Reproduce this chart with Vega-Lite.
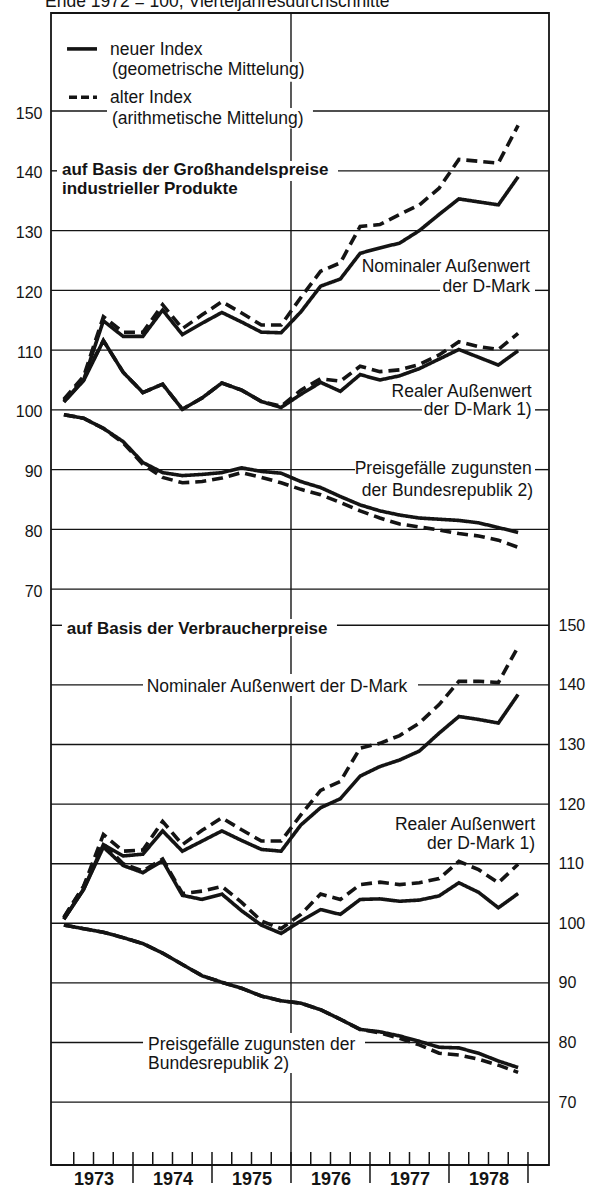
{
  "$schema": "https://vega.github.io/schema/vega-lite/v6.json",
  "width": 498,
  "height": 1152,
  "autosize": {"type": "none"},
  "padding": {"left": 51, "top": 13, "right": 40, "bottom": 22},
  "background": "white",
  "config": {
    "view": {"stroke": "#141414", "strokeWidth": 1.8},
    "font": "Liberation Sans",
    "axis": {"labelFont": "Liberation Sans", "labelColor": "#141414", "grid": false, "ticks": false, "domain": false},
    "text": {"font": "Liberation Sans", "color": "#141414"}
  },
  "datasets": {
    "top": [
      {"t": 1973.125, "nom_neu": 101.4, "nom_alt": 101.8, "real_neu": 101.3, "real_alt": 101.6, "gap_neu": 99.2, "gap_alt": 99.2},
      {"t": 1973.375, "nom_neu": 105.0, "nom_alt": 105.6, "real_neu": 104.9, "real_alt": 105.2, "gap_neu": 98.6, "gap_alt": 98.6},
      {"t": 1973.625, "nom_neu": 114.9, "nom_alt": 115.6, "real_neu": 111.6, "real_alt": 111.6, "gap_neu": 96.9, "gap_alt": 96.9},
      {"t": 1973.875, "nom_neu": 112.3, "nom_alt": 113.0, "real_neu": 106.3, "real_alt": 106.3, "gap_neu": 94.7, "gap_alt": 94.5},
      {"t": 1974.125, "nom_neu": 112.3, "nom_alt": 113.0, "real_neu": 102.9, "real_alt": 102.9, "gap_neu": 91.2, "gap_alt": 90.9},
      {"t": 1974.375, "nom_neu": 116.7, "nom_alt": 117.6, "real_neu": 104.3, "real_alt": 104.3, "gap_neu": 89.5, "gap_alt": 88.7},
      {"t": 1974.625, "nom_neu": 112.6, "nom_alt": 113.6, "real_neu": 100.1, "real_alt": 100.1, "gap_neu": 89.0, "gap_alt": 87.8},
      {"t": 1974.875, "nom_neu": 114.5, "nom_alt": 115.9, "real_neu": 102.0, "real_alt": 102.0, "gap_neu": 89.2, "gap_alt": 88.0},
      {"t": 1975.125, "nom_neu": 116.3, "nom_alt": 118.1, "real_neu": 104.5, "real_alt": 104.5, "gap_neu": 89.5, "gap_alt": 88.6},
      {"t": 1975.375, "nom_neu": 114.7, "nom_alt": 116.2, "real_neu": 103.3, "real_alt": 103.3, "gap_neu": 90.3, "gap_alt": 89.5},
      {"t": 1975.625, "nom_neu": 113.0, "nom_alt": 114.2, "real_neu": 101.4, "real_alt": 101.4, "gap_neu": 89.7, "gap_alt": 88.7},
      {"t": 1975.875, "nom_neu": 112.9, "nom_alt": 114.2, "real_neu": 100.4, "real_alt": 100.6, "gap_neu": 89.4, "gap_alt": 87.8},
      {"t": 1976.125, "nom_neu": 116.4, "nom_alt": 118.8, "real_neu": 102.6, "real_alt": 103.3, "gap_neu": 88.0, "gap_alt": 86.7},
      {"t": 1976.375, "nom_neu": 120.7, "nom_alt": 123.2, "real_neu": 104.6, "real_alt": 105.2, "gap_neu": 87.0, "gap_alt": 85.8},
      {"t": 1976.625, "nom_neu": 121.9, "nom_alt": 124.6, "real_neu": 103.1, "real_alt": 104.8, "gap_neu": 85.5, "gap_alt": 84.5},
      {"t": 1976.875, "nom_neu": 126.2, "nom_alt": 130.7, "real_neu": 105.9, "real_alt": 107.3, "gap_neu": 84.1, "gap_alt": 83.1},
      {"t": 1977.125, "nom_neu": 127.1, "nom_alt": 131.0, "real_neu": 105.0, "real_alt": 106.4, "gap_neu": 83.1, "gap_alt": 81.9},
      {"t": 1977.375, "nom_neu": 127.9, "nom_alt": 132.7, "real_neu": 105.7, "real_alt": 106.7, "gap_neu": 82.4, "gap_alt": 80.9},
      {"t": 1977.625, "nom_neu": 130.0, "nom_alt": 134.3, "real_neu": 106.9, "real_alt": 107.6, "gap_neu": 81.9, "gap_alt": 80.4},
      {"t": 1977.875, "nom_neu": 132.7, "nom_alt": 137.1, "real_neu": 108.5, "real_alt": 109.2, "gap_neu": 81.7, "gap_alt": 79.9},
      {"t": 1978.125, "nom_neu": 135.3, "nom_alt": 141.9, "real_neu": 110.1, "real_alt": 111.4, "gap_neu": 81.5, "gap_alt": 79.3},
      {"t": 1978.375, "nom_neu": 134.8, "nom_alt": 141.6, "real_neu": 108.8, "real_alt": 110.6, "gap_neu": 81.1, "gap_alt": 78.9},
      {"t": 1978.625, "nom_neu": 134.3, "nom_alt": 141.3, "real_neu": 107.5, "real_alt": 110.1, "gap_neu": 80.3, "gap_alt": 78.2},
      {"t": 1978.875, "nom_neu": 139.0, "nom_alt": 147.6, "real_neu": 109.9, "real_alt": 112.8, "gap_neu": 79.5, "gap_alt": 77.0}
    ],
    "bottom": [
      {"t": 1973.125, "nom_neu": 100.7, "nom_alt": 101.0, "real_neu": 100.7, "real_alt": 101.0, "gap_neu": 99.7, "gap_alt": 99.7},
      {"t": 1973.375, "nom_neu": 105.7, "nom_alt": 106.2, "real_neu": 105.7, "real_alt": 106.2, "gap_neu": 99.1, "gap_alt": 99.1},
      {"t": 1973.625, "nom_neu": 113.2, "nom_alt": 114.9, "real_neu": 112.8, "real_alt": 113.3, "gap_neu": 98.5, "gap_alt": 98.5},
      {"t": 1973.875, "nom_neu": 111.3, "nom_alt": 112.1, "real_neu": 109.7, "real_alt": 110.0, "gap_neu": 97.6, "gap_alt": 97.6},
      {"t": 1974.125, "nom_neu": 111.6, "nom_alt": 112.3, "real_neu": 108.5, "real_alt": 108.8, "gap_neu": 96.6, "gap_alt": 96.6},
      {"t": 1974.375, "nom_neu": 115.5, "nom_alt": 117.1, "real_neu": 110.5, "real_alt": 110.8, "gap_neu": 95.0, "gap_alt": 95.0},
      {"t": 1974.625, "nom_neu": 112.1, "nom_alt": 113.2, "real_neu": 104.7, "real_alt": 105.0, "gap_neu": 93.1, "gap_alt": 93.1},
      {"t": 1974.875, "nom_neu": 113.8, "nom_alt": 115.6, "real_neu": 104.0, "real_alt": 105.4, "gap_neu": 91.2, "gap_alt": 91.2},
      {"t": 1975.125, "nom_neu": 115.5, "nom_alt": 117.7, "real_neu": 104.9, "real_alt": 106.2, "gap_neu": 90.1, "gap_alt": 90.1},
      {"t": 1975.375, "nom_neu": 113.9, "nom_alt": 115.7, "real_neu": 102.1, "real_alt": 103.5, "gap_neu": 89.1, "gap_alt": 89.1},
      {"t": 1975.625, "nom_neu": 112.4, "nom_alt": 113.8, "real_neu": 99.7, "real_alt": 100.4, "gap_neu": 87.8, "gap_alt": 87.8},
      {"t": 1975.875, "nom_neu": 112.1, "nom_alt": 113.8, "real_neu": 98.3, "real_alt": 99.1, "gap_neu": 87.0, "gap_alt": 87.0},
      {"t": 1976.125, "nom_neu": 116.5, "nom_alt": 118.2, "real_neu": 100.4, "real_alt": 101.5, "gap_neu": 86.6, "gap_alt": 86.6},
      {"t": 1976.375, "nom_neu": 119.4, "nom_alt": 122.3, "real_neu": 102.3, "real_alt": 104.9, "gap_neu": 85.5, "gap_alt": 85.5},
      {"t": 1976.625, "nom_neu": 120.9, "nom_alt": 123.8, "real_neu": 101.5, "real_alt": 104.0, "gap_neu": 83.9, "gap_alt": 83.9},
      {"t": 1976.875, "nom_neu": 124.7, "nom_alt": 129.4, "real_neu": 104.0, "real_alt": 106.5, "gap_neu": 82.2, "gap_alt": 82.2},
      {"t": 1977.125, "nom_neu": 126.3, "nom_alt": 130.2, "real_neu": 104.1, "real_alt": 106.9, "gap_neu": 81.8, "gap_alt": 81.6},
      {"t": 1977.375, "nom_neu": 127.4, "nom_alt": 131.5, "real_neu": 103.7, "real_alt": 106.5, "gap_neu": 81.1, "gap_alt": 80.7},
      {"t": 1977.625, "nom_neu": 128.9, "nom_alt": 133.6, "real_neu": 103.9, "real_alt": 106.8, "gap_neu": 80.2, "gap_alt": 79.6},
      {"t": 1977.875, "nom_neu": 131.9, "nom_alt": 136.7, "real_neu": 104.6, "real_alt": 107.5, "gap_neu": 79.2, "gap_alt": 78.2},
      {"t": 1978.125, "nom_neu": 134.7, "nom_alt": 140.6, "real_neu": 106.8, "real_alt": 110.4, "gap_neu": 79.1, "gap_alt": 77.9},
      {"t": 1978.375, "nom_neu": 134.2, "nom_alt": 140.6, "real_neu": 105.2, "real_alt": 109.0, "gap_neu": 78.2, "gap_alt": 77.2},
      {"t": 1978.625, "nom_neu": 133.6, "nom_alt": 140.4, "real_neu": 102.6, "real_alt": 106.8, "gap_neu": 76.9, "gap_alt": 76.2},
      {"t": 1978.875, "nom_neu": 138.4, "nom_alt": 146.4, "real_neu": 105.0, "real_alt": 109.9, "gap_neu": 75.8, "gap_alt": 75.0}
    ],
    "gridTop": [
      {"t": 1972.962, "t2": 1973.671, "v": 150}, {"t": 1976.278, "t2": 1979.266, "v": 150},
      {"t": 1972.962, "t2": 1973.038, "v": 140}, {"t": 1976.595, "t2": 1979.266, "v": 140},
      {"t": 1972.962, "t2": 1979.266, "v": 130},
      {"t": 1972.962, "t2": 1977.886, "v": 120}, {"t": 1979.089, "t2": 1979.266, "v": 120},
      {"t": 1972.962, "t2": 1979.266, "v": 110},
      {"t": 1972.962, "t2": 1977.658, "v": 100}, {"t": 1979.089, "t2": 1979.266, "v": 100},
      {"t": 1972.962, "t2": 1976.81, "v": 90}, {"t": 1979.089, "t2": 1979.266, "v": 90},
      {"t": 1972.962, "t2": 1979.266, "v": 80},
      {"t": 1972.962, "t2": 1979.266, "v": 70}
    ],
    "gridBottom": [
      {"t": 1972.962, "t2": 1973.101, "v": 150}, {"t": 1976.582, "t2": 1979.266, "v": 150},
      {"t": 1972.962, "t2": 1974.127, "v": 140}, {"t": 1977.608, "t2": 1979.266, "v": 140},
      {"t": 1972.962, "t2": 1979.266, "v": 130},
      {"t": 1972.962, "t2": 1979.266, "v": 120},
      {"t": 1972.962, "t2": 1979.266, "v": 110},
      {"t": 1972.962, "t2": 1979.266, "v": 100},
      {"t": 1972.962, "t2": 1979.266, "v": 90},
      {"t": 1972.962, "t2": 1974.127, "v": 80}, {"t": 1976.937, "t2": 1979.266, "v": 80},
      {"t": 1972.962, "t2": 1979.266, "v": 70}
    ],
    "vline": [
      {"t": 1976, "v": 166.41, "v2": 158.2},
      {"t": 1976, "v": 154.9, "v2": 150.52},
      {"t": 1976, "v": 147.1, "v2": 141.65},
      {"t": 1976, "v": 138.3, "v2": 65.01},
      {"t": 1976, "v": 62.16, "v2": 55.8},
      {"t": 1976, "v": 52.12, "v2": -4.27},
      {"t": 1976, "v": -10.96, "v2": -26.36}
    ],
    "legendSolid": [{"t": 1973.165, "t2": 1973.544, "v": 160.4}],
    "legendDashed": [{"t": 1973.19, "t2": 1973.544, "v": 152.3}],
    "topBold": [
      {"t": 1973.101, "v": 139.3, "label": "auf Basis der Großhandelspreise"},
      {"t": 1973.101, "v": 136.12, "label": "industrieller Produkte"}
    ],
    "topLeft": [
      {"t": 1973.709, "v": 159.4, "label": "neuer Index"},
      {"t": 1973.734, "v": 156.0, "label": "(geometrische Mittelung)"},
      {"t": 1973.709, "v": 151.3, "label": "alter Index"},
      {"t": 1973.734, "v": 147.8, "label": "(arithmetische Mittelung)"},
      {"t": 1972.886, "v": 167.42, "label": "Ende 1972 = 100, Vierteljahresdurchschnitte"}
    ],
    "topRight": [
      {"t": 1979.025, "v": 123.07, "label": "Nominaler Außenwert"},
      {"t": 1979.025, "v": 119.78, "label": "der D-Mark"},
      {"t": 1979.047, "v": 102.16, "label": "Realer Außenwert"},
      {"t": 1979.047, "v": 99.14, "label": "der D-Mark 1)"},
      {"t": 1979.047, "v": 89.27, "label": "Preisgefälle zugunsten"},
      {"t": 1979.063, "v": 85.53, "label": "der Bundesrepublik 2)"}
    ],
    "bottomBold": [
      {"t": 1973.161, "v": 148.62, "label": "auf Basis der Verbraucherpreise"}
    ],
    "bottomLeft": [
      {"t": 1974.173, "v": 138.81, "label": "Nominaler Außenwert der D-Mark"},
      {"t": 1974.19, "v": 78.74, "label": "Preisgefälle zugunsten der"},
      {"t": 1974.19, "v": 75.55, "label": "Bundesrepublik 2)"}
    ],
    "bottomRight": [
      {"t": 1979.089, "v": 115.65, "label": "Realer Außenwert"},
      {"t": 1979.089, "v": 112.55, "label": "der D-Mark 1)"}
    ],
    "minorTicks": [
      {"t": 1973.25}, {"t": 1973.5}, {"t": 1973.75},
      {"t": 1974.25}, {"t": 1974.5}, {"t": 1974.75},
      {"t": 1975.25}, {"t": 1975.5}, {"t": 1975.75},
      {"t": 1976.25}, {"t": 1976.5}, {"t": 1976.75},
      {"t": 1977.25}, {"t": 1977.5}, {"t": 1977.75},
      {"t": 1978.25}, {"t": 1978.5}, {"t": 1978.75}
    ],
    "majorTicks": [
      {"t": 1974}, {"t": 1975}, {"t": 1976}, {"t": 1977}, {"t": 1978}, {"t": 1979}
    ]
  },
  "layer": [
    {
      "layer": [
        {
          "data": {"name": "gridTop"},
          "mark": {"type": "rule", "color": "#141414", "strokeWidth": 1.4},
          "encoding": {
            "x": {"field": "t", "type": "quantitative", "title": null, "scale": {"domain": [1972.962, 1979.266], "nice": false, "zero": false}},
            "x2": {"field": "t2"},
            "y": {"field": "v", "type": "quantitative", "title": null, "scale": {"domain": [-26.36, 166.41], "nice": false, "zero": false}, "axis": {"orient": "left", "values": [70, 80, 90, 100, 110, 120, 130, 140, 150], "title": null, "labelFontSize": 16, "labelPadding": 9, "labelOffset": 2}}
          }
        },
        {
          "data": {"name": "vline"},
          "mark": {"type": "rule", "color": "#141414", "strokeWidth": 1.4},
          "encoding": {
            "x": {"field": "t", "type": "quantitative", "title": null, "scale": {"domain": [1972.962, 1979.266], "nice": false, "zero": false}},
            "y": {"field": "v", "type": "quantitative", "title": null, "scale": {"domain": [-26.36, 166.41], "nice": false, "zero": false}},
            "y2": {"field": "v2"}
          }
        },
        {
          "data": {"name": "top"},
          "transform": [{"fold": ["nom_neu", "nom_alt", "real_neu", "real_alt", "gap_neu", "gap_alt"], "as": ["key", "v"]}],
          "mark": {"type": "line", "color": "#141414", "strokeWidth": 3.6, "strokeJoin": "miter"},
          "encoding": {
            "x": {"field": "t", "type": "quantitative", "title": null, "scale": {"domain": [1972.962, 1979.266], "nice": false, "zero": false},
              "axis": {"orient": "bottom", "values": [1973.5, 1974.5, 1975.5, 1976.5, 1977.5, 1978.5], "labelExpr": "format(floor(datum.value), 'd')", "title": null, "labelFontSize": 18, "labelFontWeight": "bold", "labelPadding": 5, "labelFlush": false}},
            "y": {"field": "v", "type": "quantitative", "title": null, "scale": {"domain": [-26.36, 166.41], "nice": false, "zero": false}},
            "strokeDash": {"field": "key", "type": "nominal", "legend": null,
              "scale": {"domain": ["nom_neu", "nom_alt", "real_neu", "real_alt", "gap_neu", "gap_alt"], "range": [[1, 0], [11, 6], [1, 0], [11, 6], [1, 0], [11, 6]]}}
          }
        },
        {
          "data": {"name": "legendSolid"},
          "mark": {"type": "rule", "color": "#141414", "strokeWidth": 3.6},
          "encoding": {
            "x": {"field": "t", "type": "quantitative", "title": null, "scale": {"domain": [1972.962, 1979.266], "nice": false, "zero": false}},
            "x2": {"field": "t2"},
            "y": {"field": "v", "type": "quantitative", "title": null, "scale": {"domain": [-26.36, 166.41], "nice": false, "zero": false}}
          }
        },
        {
          "data": {"name": "legendDashed"},
          "mark": {"type": "rule", "color": "#141414", "strokeWidth": 3.6, "strokeDash": [8, 4]},
          "encoding": {
            "x": {"field": "t", "type": "quantitative", "title": null, "scale": {"domain": [1972.962, 1979.266], "nice": false, "zero": false}},
            "x2": {"field": "t2"},
            "y": {"field": "v", "type": "quantitative", "title": null, "scale": {"domain": [-26.36, 166.41], "nice": false, "zero": false}}
          }
        },
        {
          "data": {"name": "topBold"},
          "mark": {"type": "text", "align": "left", "baseline": "alphabetic", "fontSize": 17, "fontWeight": "bold"},
          "encoding": {
            "x": {"field": "t", "type": "quantitative", "title": null, "scale": {"domain": [1972.962, 1979.266], "nice": false, "zero": false}},
            "y": {"field": "v", "type": "quantitative", "title": null, "scale": {"domain": [-26.36, 166.41], "nice": false, "zero": false}},
            "text": {"field": "label"}
          }
        },
        {
          "data": {"name": "topLeft"},
          "mark": {"type": "text", "align": "left", "baseline": "alphabetic", "fontSize": 17.5},
          "encoding": {
            "x": {"field": "t", "type": "quantitative", "title": null, "scale": {"domain": [1972.962, 1979.266], "nice": false, "zero": false}},
            "y": {"field": "v", "type": "quantitative", "title": null, "scale": {"domain": [-26.36, 166.41], "nice": false, "zero": false}},
            "text": {"field": "label"}
          }
        },
        {
          "data": {"name": "topRight"},
          "mark": {"type": "text", "align": "right", "baseline": "alphabetic", "fontSize": 17.5},
          "encoding": {
            "x": {"field": "t", "type": "quantitative", "title": null, "scale": {"domain": [1972.962, 1979.266], "nice": false, "zero": false}},
            "y": {"field": "v", "type": "quantitative", "title": null, "scale": {"domain": [-26.36, 166.41], "nice": false, "zero": false}},
            "text": {"field": "label"}
          }
        }
      ]
    },
    {
      "layer": [
        {
          "data": {"name": "gridBottom"},
          "mark": {"type": "rule", "color": "#141414", "strokeWidth": 1.4},
          "encoding": {
            "x": {"field": "t", "type": "quantitative", "title": null, "scale": {"domain": [1972.962, 1979.266], "nice": false, "zero": false}},
            "x2": {"field": "t2"},
            "y": {"field": "v", "type": "quantitative", "title": null, "scale": {"domain": [59.45, 252.73], "nice": false, "zero": false}, "axis": {"orient": "right", "values": [70, 80, 90, 100, 110, 120, 130, 140, 150], "title": null, "labelFontSize": 16, "labelPadding": 9}}
          }
        },
        {
          "data": {"name": "bottom"},
          "transform": [{"fold": ["nom_neu", "nom_alt", "real_neu", "real_alt", "gap_neu", "gap_alt"], "as": ["key", "v"]}],
          "mark": {"type": "line", "color": "#141414", "strokeWidth": 3.6, "strokeJoin": "miter"},
          "encoding": {
            "x": {"field": "t", "type": "quantitative", "title": null, "scale": {"domain": [1972.962, 1979.266], "nice": false, "zero": false}},
            "y": {"field": "v", "type": "quantitative", "title": null, "scale": {"domain": [59.45, 252.73], "nice": false, "zero": false}},
            "strokeDash": {"field": "key", "type": "nominal", "legend": null,
              "scale": {"domain": ["nom_neu", "nom_alt", "real_neu", "real_alt", "gap_neu", "gap_alt"], "range": [[1, 0], [11, 6], [1, 0], [11, 6], [1, 0], [11, 6]]}}
          }
        },
        {
          "data": {"name": "minorTicks"},
          "mark": {"type": "rule", "color": "#141414", "strokeWidth": 1.5},
          "encoding": {
            "x": {"field": "t", "type": "quantitative", "title": null, "scale": {"domain": [1972.962, 1979.266], "nice": false, "zero": false}},
            "y": {"datum": 61.63, "type": "quantitative", "title": null, "scale": {"domain": [59.45, 252.73], "nice": false, "zero": false}},
            "y2": {"datum": 59.45}
          }
        },
        {
          "data": {"name": "majorTicks"},
          "mark": {"type": "rule", "color": "#141414", "strokeWidth": 1.5},
          "encoding": {
            "x": {"field": "t", "type": "quantitative", "title": null, "scale": {"domain": [1972.962, 1979.266], "nice": false, "zero": false}},
            "y": {"datum": 61.63, "type": "quantitative", "title": null, "scale": {"domain": [59.45, 252.73], "nice": false, "zero": false}},
            "y2": {"datum": 56.43}
          }
        },
        {
          "data": {"name": "bottomBold"},
          "mark": {"type": "text", "align": "left", "baseline": "alphabetic", "fontSize": 17, "fontWeight": "bold"},
          "encoding": {
            "x": {"field": "t", "type": "quantitative", "title": null, "scale": {"domain": [1972.962, 1979.266], "nice": false, "zero": false}},
            "y": {"field": "v", "type": "quantitative", "title": null, "scale": {"domain": [59.45, 252.73], "nice": false, "zero": false}},
            "text": {"field": "label"}
          }
        },
        {
          "data": {"name": "bottomLeft"},
          "mark": {"type": "text", "align": "left", "baseline": "alphabetic", "fontSize": 17.5},
          "encoding": {
            "x": {"field": "t", "type": "quantitative", "title": null, "scale": {"domain": [1972.962, 1979.266], "nice": false, "zero": false}},
            "y": {"field": "v", "type": "quantitative", "title": null, "scale": {"domain": [59.45, 252.73], "nice": false, "zero": false}},
            "text": {"field": "label"}
          }
        },
        {
          "data": {"name": "bottomRight"},
          "mark": {"type": "text", "align": "right", "baseline": "alphabetic", "fontSize": 17.5},
          "encoding": {
            "x": {"field": "t", "type": "quantitative", "title": null, "scale": {"domain": [1972.962, 1979.266], "nice": false, "zero": false}},
            "y": {"field": "v", "type": "quantitative", "title": null, "scale": {"domain": [59.45, 252.73], "nice": false, "zero": false}},
            "text": {"field": "label"}
          }
        }
      ]
    }
  ],
  "resolve": {"scale": {"y": "independent", "strokeDash": "independent"}, "axis": {"y": "independent"}}
}
